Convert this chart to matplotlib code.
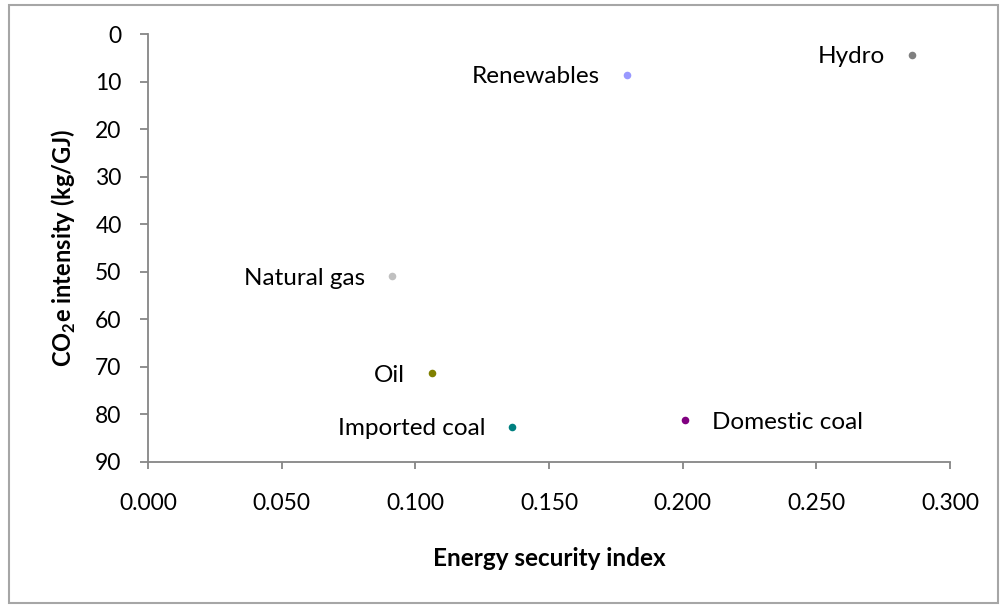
import matplotlib
matplotlib.use("Agg")
import matplotlib.pyplot as plt
from matplotlib.patches import Rectangle

# data
sources = ["Hydro", "Renewables", "Natural gas", "Oil", "Imported coal", "Domestic coal"]
security_index = [0.2858, 0.1792, 0.0913, 0.1062, 0.1362, 0.2009]
co2_intensity = [4.4, 8.6, 50.9, 71.3, 82.6, 81.2]
colors = ["#808080", "#9999FF", "#C0C0C0", "#808000", "#008080", "#800080"]
label_side = ["left", "left", "left", "left", "left", "right"]

x_ticks = [0.0, 0.05, 0.10, 0.15, 0.20, 0.25, 0.30]
y_ticks = [0, 10, 20, 30, 40, 50, 60, 70, 80, 90]

plt.rcParams["font.family"] = ["Lato", "DejaVu Sans"]
plt.rcParams["mathtext.fontset"] = "custom"
plt.rcParams["mathtext.rm"] = "Lato"
plt.rcParams["mathtext.bf"] = "Lato:bold"

fig = plt.figure(figsize=(10, 6.05), dpi=100)
ax = fig.add_axes([0.148, 0.2364, 0.802, 0.7074])

axis_grey = "#868686"
for s, c, xv, yv, side in zip(sources, colors, security_index, co2_intensity, label_side):
    ax.scatter(xv, yv, s=30, color=c, zorder=3, linewidths=0)
    if side == "left":
        ax.annotate(s, (xv, yv), xytext=(-27, -2), textcoords="offset pixels",
                    ha="right", va="center", fontsize=17.5)
    else:
        ax.annotate(s, (xv, yv), xytext=(27, -2), textcoords="offset pixels",
                    ha="left", va="center", fontsize=17.5)

ax.set_xlim(0, 0.3)
ax.set_ylim(90, 0)
ax.set_xticks(x_ticks)
ax.set_xticklabels([f"{v:.3f}" for v in x_ticks])
ax.set_yticks(y_ticks)

for side in ["top", "right"]:
    ax.spines[side].set_visible(False)
for side in ["left", "bottom"]:
    ax.spines[side].set_color(axis_grey)
    ax.spines[side].set_linewidth(1.3)

ax.tick_params(axis="y", direction="out", length=6, width=1.3, color=axis_grey,
               pad=13, labelsize=16.5)
ax.tick_params(axis="x", direction="out", length=5, width=1.3, color=axis_grey,
               pad=17, labelsize=16.5)

ax.set_xlabel("Energy security index", fontsize=17.5, fontweight="bold", labelpad=24)
ax.set_ylabel(r"CO$_\mathbf{2}$e intensity (kg/GJ)", fontsize=17, fontweight="bold", labelpad=12)

# outer chart border
fig.patches.append(Rectangle((0.009, 0.004), 0.989, 0.987, transform=fig.transFigure,
                             fill=False, edgecolor="#A6A6A6", linewidth=1.5))

fig.savefig("out.png", dpi=100)
